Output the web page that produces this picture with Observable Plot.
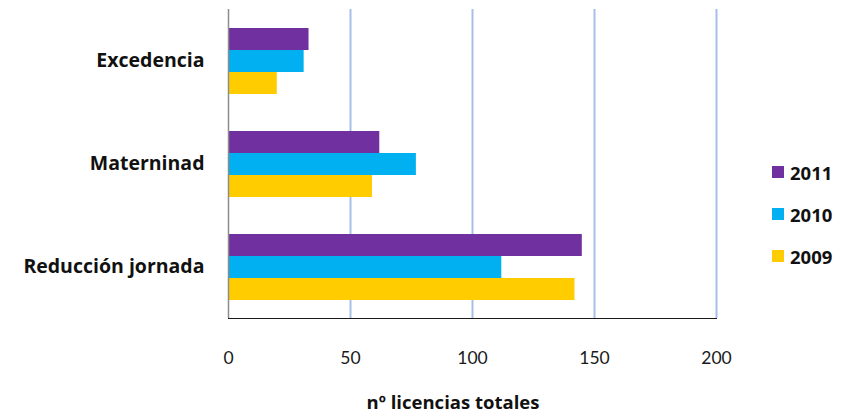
<!DOCTYPE html>
<html>
<head>
<meta charset="utf-8">
<script src="https://cdn.jsdelivr.net/npm/d3@7"></script>
<script src="https://cdn.jsdelivr.net/npm/@observablehq/plot@0.6"></script>
<style>
  html, body { margin: 0; padding: 0; background: #fff; }
  #wrap { position: relative; width: 849px; height: 418px; font-family: "Open Sans", Lato, sans-serif; }
  #wrap svg .domain, #wrap svg [aria-label="x-axis"] path { stroke: #8c8c8c; }
  .item { position: absolute; left: 772px; display: flex; align-items: center; height: 24px; font-weight: bold; font-size: 18.5px; color: #111; font-family: "Open Sans", sans-serif; }
  .sw { width: 12px; height: 12px; margin-right: 6px; }
  #xlabel { position: absolute; left: 333px; width: 240px; text-align: center; top: 389px; font-weight: bold; font-size: 18.5px; color: #111; }
</style>
</head>
<body>
<div id="wrap"></div>
<script>
const categories = ["Excedencia", "Materninad", "Reducción jornada"];
const years = ["2011", "2010", "2009"];
const v2011 = [33, 62, 145];
const v2010 = [31, 77, 112];
const v2009 = [20, 59, 142];
const colors = ["#7030a0", "#00b0f0", "#ffcc00"];
const xTicks = [0, 50, 100, 150, 200];
const xLabel = "nº licencias totales";

const series = {"2011": v2011, "2010": v2010, "2009": v2009};
const rows = [];
categories.forEach((c, i) => {
  years.forEach(y => rows.push({category: c, year: y, value: series[y][i]}));
});

const chart = Plot.plot({
  width: 849,
  height: 418,
  marginLeft: 228,
  marginRight: 133,
  marginTop: 8,
  marginBottom: 100,
  style: {fontFamily: "Lato, 'Open Sans', sans-serif", fontSize: "17.5px", color: "#1a1a1a", background: "white"},
  facet: {data: rows, y: "category"},
  fy: {domain: categories, padding: 0, axis: null, label: null},
  y: {domain: years, paddingInner: 0, paddingOuter: 0.745, axis: null, label: null},
  x: {domain: [0, 200], ticks: xTicks, tickSize: 0, tickPadding: 33, label: null, line: true},
  color: {domain: years, range: colors},
  marks: [
    Plot.ruleX(xTicks.slice(1), {stroke: "#a6bfe8", strokeWidth: 2}),
    Plot.barX(rows, {x: "value", y: "year", fill: "year"}),
    Plot.ruleX([0], {stroke: "#8c8c8c", strokeWidth: 1.5}),
    Plot.text(rows, Plot.selectFirst({text: "category", frameAnchor: "left", dx: -24, textAnchor: "end", fontWeight: "bold", fontSize: 19.5, fontFamily: "'Open Sans', sans-serif", fill: "#111"}))
  ]
});

const wrap = document.getElementById("wrap");
wrap.appendChild(chart);

const lab = document.createElement("div");
lab.id = "xlabel";
lab.textContent = xLabel;
wrap.appendChild(lab);

const legendTops = [160, 202, 244];
years.forEach((y, i) => {
  const item = document.createElement("div");
  item.className = "item";
  item.style.top = legendTops[i] + "px";
  const sw = document.createElement("span");
  sw.className = "sw";
  sw.style.background = colors[i];
  const t = document.createElement("span");
  t.textContent = y;
  item.appendChild(sw);
  item.appendChild(t);
  wrap.appendChild(item);
});
</script>
</body>
</html>
